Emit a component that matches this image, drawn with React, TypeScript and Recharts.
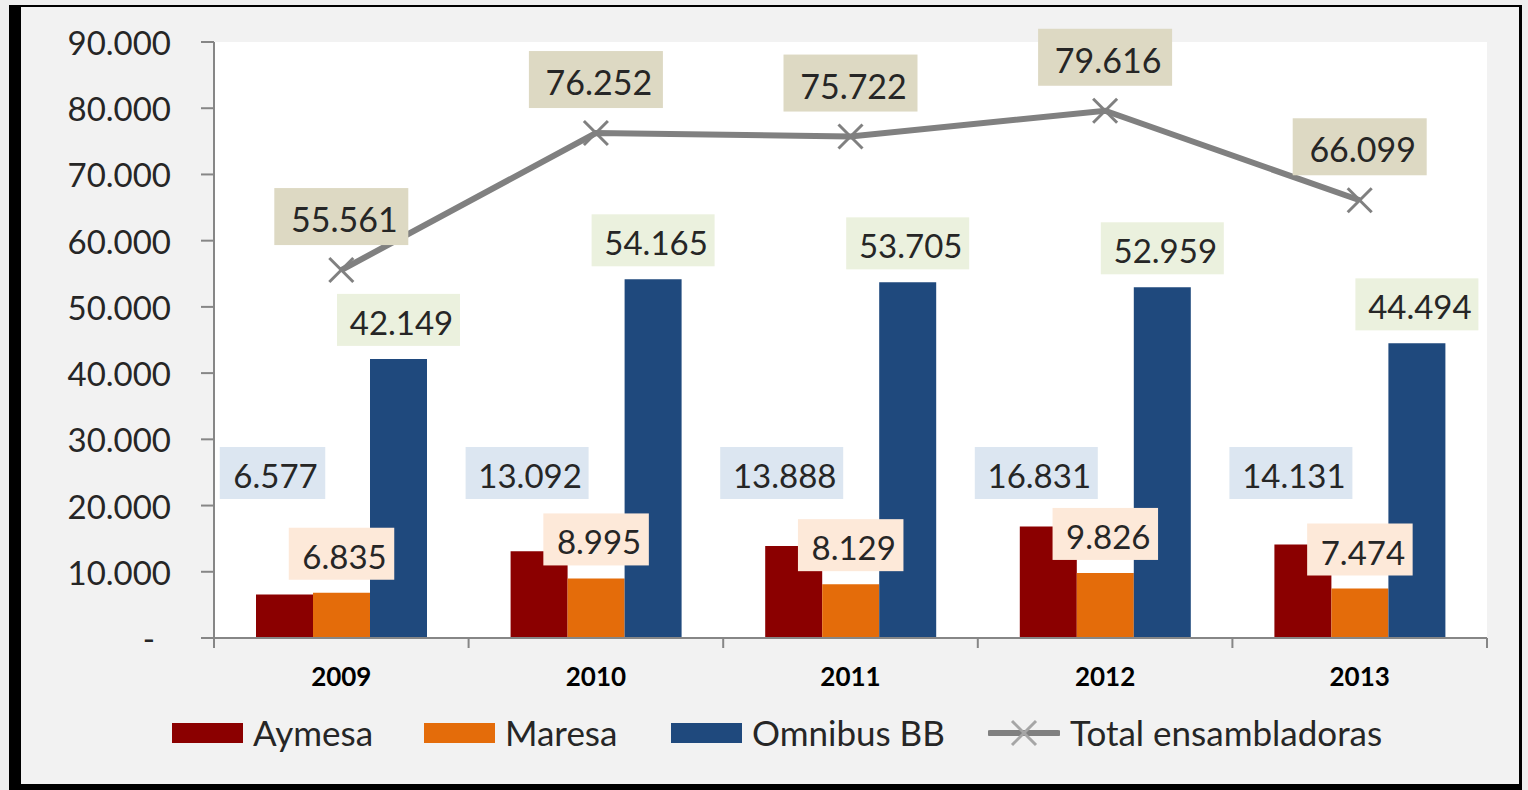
import React from "react";
import {
  ComposedChart,
  Bar,
  Line,
  XAxis,
  YAxis,
  CartesianGrid,
  Legend,
  LabelList,
} from "recharts";

const years = ["2009", "2010", "2011", "2012", "2013"];
const aymesa = [6577, 13092, 13888, 16831, 14131];
const maresa = [6835, 8995, 8129, 9826, 7474];
const omnibus = [42149, 54165, 53705, 52959, 44494];
const total = [55561, 76252, 75722, 79616, 66099];
const yTicks = [0, 10000, 20000, 30000, 40000, 50000, 60000, 70000, 80000, 90000];

const data = years.map((year, i) => ({
  year,
  aymesa: aymesa[i],
  maresa: maresa[i],
  omnibus: omnibus[i],
  total: total[i],
}));

const W = 1528;
const H = 790;
const margin = { top: 42, right: 41, bottom: 37, left: 0 };
const plotW = W - 214 - margin.right;
const band = plotW / years.length;
const FONT = "Lato, 'Open Sans', sans-serif";
const TXT = "#262626";
const AXIS = "#868686";
const GREY = "#808080";

const fmt = (v: number) => String(v).replace(/\B(?=(\d{3})+(?!\d))/g, ".");

// labels in a box, like Excel data labels with fill
const boxLabel = (bg: string, mode: "above" | "aymesa" | "line") => (props: any) => {
  const vb = props.viewBox || props;
  const x = vb.x ?? props.x;
  const y = vb.y ?? props.y;
  const w = vb.width ?? 0;
  const h = vb.height ?? 0;
  const text = fmt(props.value);
  const fs = mode === "line" ? 34 : 33;
  const bw = mode === "line" ? 17.5 * text.length + 29 : 17.5 * text.length + 18;
  const bh = mode === "line" ? 57 : 52;
  let cx = x + w / 2;
  let cy = y - 13 - bh / 2;
  if (mode === "aymesa") {
    cx = x + w / 2 - 12;
    cy = y + h - 165;
  } else if (mode === "line") {
    cx = x;
    cy = y - 25 - bh / 2;
  }
  return (
    <g>
      <rect x={cx - bw / 2} y={cy - bh / 2} width={bw} height={bh} fill={bg} />
      <text
        x={cx + 3}
        y={cy + 2}
        textAnchor="middle"
        dominantBaseline="central"
        fontSize={fs}
        fontFamily={FONT}
        fill={TXT}
      >
        {text}
      </text>
    </g>
  );
};

const XMark = (props: any) => {
  const { cx, cy } = props;
  if (cx == null || cy == null) return null;
  const s = 12;
  return (
    <g stroke={GREY} strokeWidth={3}>
      <line x1={cx - s} y1={cy - s} x2={cx + s} y2={cy + s} />
      <line x1={cx - s} y1={cy + s} x2={cx + s} y2={cy - s} />
    </g>
  );
};

const YTick = (props: any) => {
  const { x, y, payload } = props;
  const zero = payload.value === 0;
  return (
    <text
      x={zero ? x - 16 : x}
      y={y}
      textAnchor="end"
      dominantBaseline="central"
      fontSize={33}
      fontFamily={FONT}
      fill={TXT}
    >
      {zero ? "-" : fmt(payload.value)}
    </text>
  );
};

const XTick = (props: any) => {
  const { x, y, payload, index } = props;
  const last = index === years.length - 1;
  return (
    <g>
      <line x1={x - band / 2} y1={y} x2={x - band / 2} y2={y + 10} stroke={AXIS} strokeWidth={2} />
      {last && (
        <line x1={x + band / 2} y1={y} x2={x + band / 2} y2={y + 10} stroke={AXIS} strokeWidth={2} />
      )}
      <text
        x={x}
        y={y + 38}
        textAnchor="middle"
        dominantBaseline="central"
        fontSize={26}
        fontWeight="bold"
        fontFamily={FONT}
        fill="#000"
      >
        {payload.value}
      </text>
    </g>
  );
};

const legendItems = [
  { name: "Aymesa", color: "#8b0000", left: 172 },
  { name: "Maresa", color: "#e46c0a", left: 424 },
  { name: "Omnibus BB", color: "#1f497d", left: 671 },
  { name: "Total ensambladoras", color: GREY, left: 988, line: true },
];

const LegendBox = () => (
  <div style={{ position: "relative", width: W, height: 40, fontFamily: FONT }}>
    {legendItems.map((it) => (
      <div key={it.name} style={{ position: "absolute", left: it.left, top: 0, height: 40 }}>
        {it.line ? (
          <svg width={72} height={40} style={{ position: "absolute", left: 0, top: 0 }}>
            <line x1={2} y1={20} x2={70} y2={20} stroke={GREY} strokeWidth={6} strokeLinecap="round" />
            <g stroke="#a6a6a6" strokeWidth={3}>
              <line x1={24} y1={8} x2={48} y2={32} />
              <line x1={24} y1={32} x2={48} y2={8} />
            </g>
          </svg>
        ) : (
          <div
            style={{
              position: "absolute",
              left: 0,
              top: 10,
              width: 71,
              height: 20,
              background: it.color,
            }}
          />
        )}
        <span
          style={{
            position: "absolute",
            left: it.line ? 82 : 81,
            top: -1,
            lineHeight: "40px",
            fontSize: 35,
            color: TXT,
            whiteSpace: "nowrap",
          }}
        >
          {it.name}
        </span>
      </div>
    ))}
  </div>
);

const App: React.FC = () => {
  return (
    <div style={{ position: "absolute", left: 0, top: 0, width: W, height: H, background: "#efefef" }}>
      <div
        style={{
          position: "absolute",
          left: 9,
          top: 5,
          width: 1513 - 15,
          height: 785 - 2 - 6,
          background: "#f2f2f2",
          borderLeft: "12px solid #000",
          borderTop: "2px solid #000",
          borderRight: "3px solid #000",
          borderBottom: "7px solid #000",
        }}
      />
      <div style={{ position: "absolute", left: 0, top: 0 }}>
        <ComposedChart
          width={W}
          height={H}
          data={data}
          margin={margin}
          barGap={0}
          barSize={57}
        >
          <CartesianGrid horizontal={false} vertical={false} fill="#ffffff" stroke="none" />
          <XAxis
            dataKey="year"
            height={75}
            tickLine={false}
            tickSize={0}
            tickMargin={0}
            stroke={AXIS}
            strokeWidth={2}
            tick={<XTick />}
            interval={0}
          />
          <YAxis
            width={214}
            domain={[0, 90000]}
            ticks={yTicks}
            interval={0}
            stroke={AXIS}
            strokeWidth={2}
            tickSize={13}
            tickMargin={30}
            tick={<YTick />}
          />
          <Legend verticalAlign="bottom" wrapperStyle={{ left: 0, width: W }} content={<LegendBox />} />
          <Bar dataKey="aymesa" name="Aymesa" fill="#8b0000" isAnimationActive={false}>
            <LabelList dataKey="aymesa" content={boxLabel("#dce6f1", "aymesa")} />
          </Bar>
          <Bar dataKey="maresa" name="Maresa" fill="#e46c0a" isAnimationActive={false}>
            <LabelList dataKey="maresa" content={boxLabel("#fde9d9", "above")} />
          </Bar>
          <Bar dataKey="omnibus" name="Omnibus BB" fill="#1f497d" isAnimationActive={false}>
            <LabelList dataKey="omnibus" content={boxLabel("#ebf1de", "above")} />
          </Bar>
          <Line
            dataKey="total"
            name="Total ensambladoras"
            stroke={GREY}
            strokeWidth={6}
            dot={<XMark />}
            activeDot={false}
            isAnimationActive={false}
          >
            <LabelList dataKey="total" content={boxLabel("#ddd9c3", "line")} />
          </Line>
        </ComposedChart>
      </div>
    </div>
  );
};

export default App;
